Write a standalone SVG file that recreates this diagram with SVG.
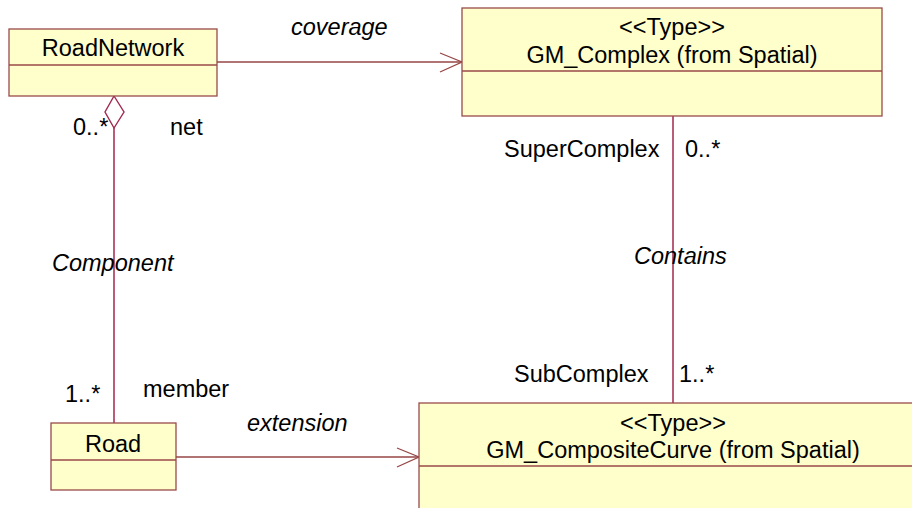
<svg xmlns="http://www.w3.org/2000/svg" width="912" height="508" viewBox="0 0 912 508">
<style>
.box{fill:#FFFFCC;stroke:#9A4A4A;stroke-width:1.3}
.div{stroke:#9A4A4A;stroke-width:1.3}
.t{font-family:"Liberation Sans",Arial,sans-serif;font-size:23.5px;fill:#000}
.c{text-anchor:middle}
.i{font-style:italic}
.ln{fill:none;stroke:#A0284E;stroke-width:1.5}
.hl{fill:none;stroke:#964646;stroke-width:1.3}
</style>
<rect width="912" height="508" fill="#fff"/>
<g id="connectors">
<g id="coverage">
<line class="hl" x1="217" y1="62" x2="462" y2="62"/>
<polyline class="hl" points="440,53 462,62 440,72"/>
<text class="t i" x="291" y="35">coverage</text>
</g>
<g id="component">
<line class="ln" x1="114" y1="128" x2="114" y2="423"/>
<polygon fill="#fff" stroke="#A0284E" stroke-width="1.4" points="114,96 124,112 114,128 105,112"/>
<text class="t" x="73" y="135">0..*</text>
<text class="t" x="170" y="135">net</text>
<text class="t i" x="52" y="271">Component</text>
<text class="t" x="65" y="402">1..*</text>
<text class="t" x="143" y="397">member</text>
</g>
<g id="contains">
<line class="ln" x1="673" y1="116" x2="673" y2="403"/>
<text class="t" x="504" y="157">SuperComplex</text>
<text class="t" x="685" y="157">0..*</text>
<text class="t i" x="634" y="264">Contains</text>
<text class="t" x="514" y="382">SubComplex</text>
<text class="t" x="679" y="382">1..*</text>
</g>
<g id="extension">
<line class="hl" x1="176" y1="457" x2="419" y2="457"/>
<polyline class="hl" points="397,448 419,457 397,467"/>
<text class="t i" x="247" y="431">extension</text>
</g>
</g>
<g id="RoadNetwork">
<rect class="box" x="9" y="29" width="208" height="67"/>
<line class="div" x1="9" y1="65" x2="217" y2="65"/>
<text class="t c" x="113" y="56">RoadNetwork</text>
</g>
<g id="GM_Complex">
<rect class="box" x="462" y="8" width="420" height="108"/>
<line class="div" x1="462" y1="71" x2="882" y2="71"/>
<text class="t c" x="672" y="35">&lt;&lt;Type&gt;&gt;</text>
<text class="t c" x="672" y="63">GM_Complex (from Spatial)</text>
</g>
<g id="Road">
<rect class="box" x="51" y="423" width="125" height="67"/>
<line class="div" x1="51" y1="460" x2="176" y2="460"/>
<text class="t c" x="113" y="452">Road</text>
</g>
<g id="GM_CompositeCurve">
<rect class="box" x="419" y="403" width="510" height="120"/>
<line class="div" x1="419" y1="466" x2="912" y2="466"/>
<text class="t c" x="673" y="431">&lt;&lt;Type&gt;&gt;</text>
<text class="t c" x="673" y="458">GM_CompositeCurve (from Spatial)</text>
</g>
</svg>
